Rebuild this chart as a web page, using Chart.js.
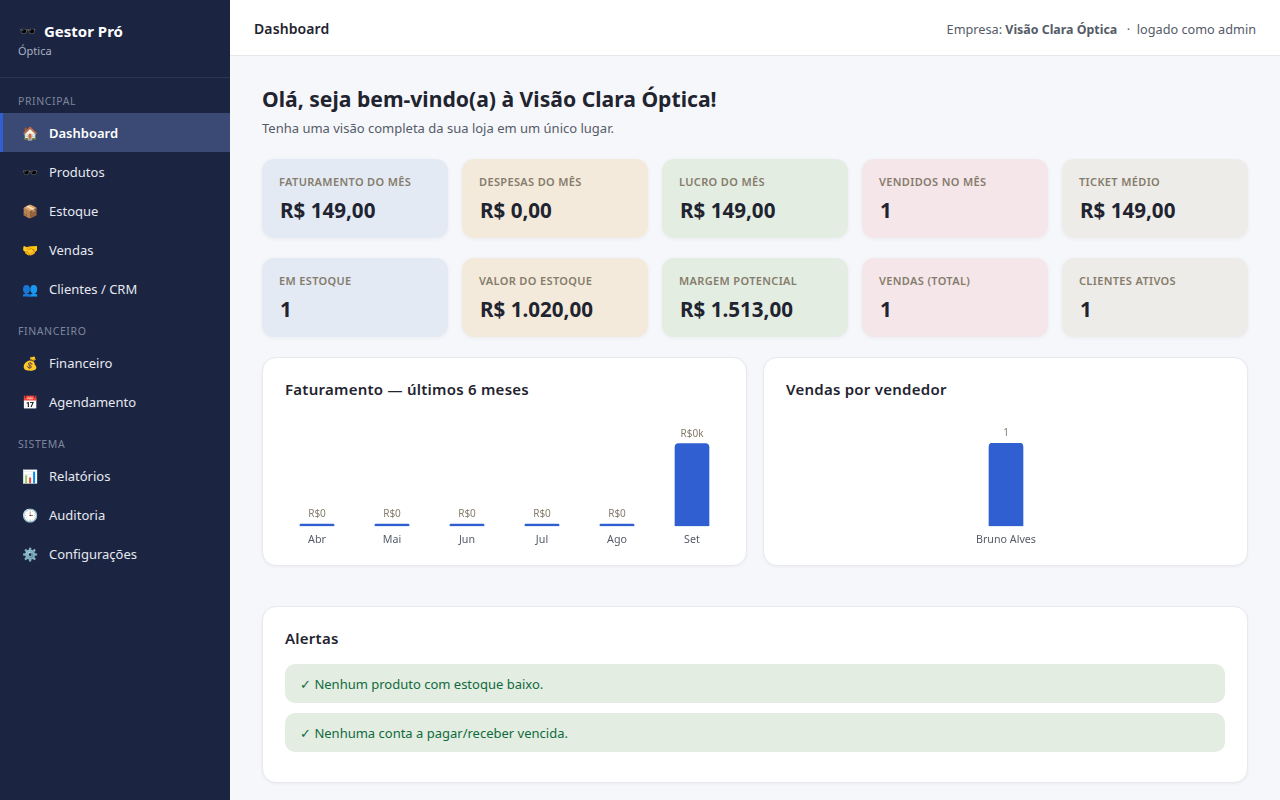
<!DOCTYPE html>
<html lang="pt-BR">
<head>
<meta charset="utf-8">
<title>Dashboard</title>
<script src="https://cdn.jsdelivr.net/npm/chart.js@4/dist/chart.umd.min.js"></script>
<style>
* { box-sizing: border-box; }
html, body { margin: 0; height: 800px; overflow: hidden; }
body { font-family: "Noto Sans", sans-serif; background: #f6f7fa; color: #1f2430; }
.side { position: absolute; left: 0; top: 0; width: 230px; height: 800px; background: #1b2440; color: #e8ebf3; }
.brand { position: absolute; left: 44px; top: 21px; font-size: 15px; font-weight: 700; color: #fff; white-space: nowrap; }
.brand i { position: absolute; left: -25px; top: 0; font-style: normal; font-size: 14px; }
.sub { position: absolute; left: 18px; top: 43px; font-size: 11px; color: #aab2c5; }
.rule { position: absolute; left: 0; top: 77px; width: 230px; height: 1px; background: #2a3553; }
.sec { position: absolute; left: 18px; font-size: 10.5px; letter-spacing: .6px; color: #7d869e; line-height: 14px; }
.item { position: absolute; left: 0; width: 230px; height: 39px; line-height: 41px; font-size: 13px; color: #e6e9f1; white-space: nowrap; }
.item i { position: absolute; left: 22px; top: 0; font-style: normal; font-size: 13px; width: 16px; text-align: center; }
.item span { position: absolute; left: 49px; }
.item.on { background: #3a4a75; border-left: 3px solid #2f5fd0; color: #fff; font-weight: 600; }
.item.on i { left: 19px; }
.item.on span { left: 46px; }
.top { position: absolute; left: 230px; top: 0; width: 1050px; height: 56px; background: #fff; border-bottom: 1px solid #e6e8ee; }
.top b.t { position: absolute; left: 24px; top: 19px; font-size: 14px; font-weight: 600; line-height: 20px; letter-spacing: .1px; }
.top .r { position: absolute; right: 24px; top: 19px; font-size: 12.7px; line-height: 20px; color: #555b68; white-space: nowrap; }
.top .r b { font-size: 12.4px; margin-right: 3px; }
h1 { position: absolute; left: 262px; top: 84px; margin: 0; font-size: 21.15px; line-height: 30px; font-weight: 700; white-space: nowrap; }
.lead { position: absolute; left: 262px; top: 119px; font-size: 13px; line-height: 18px; color: #555b68; }
.kpi { position: absolute; width: 186px; height: 79px; border-radius: 12px; box-shadow: 0 1px 4px rgba(30,40,70,.05); }
.kpi .l { position: absolute; left: 17px; top: 15px; font-size: 11px; line-height: 16px; font-weight: 600; letter-spacing: .35px; color: #857c6c; white-space: nowrap; }
.kpi .v { position: absolute; left: 18px; top: 37px; font-size: 20.6px; line-height: 28px; font-weight: 700; white-space: nowrap; }
.card { position: absolute; background: #fff; border: 1px solid #e7e9ef; border-radius: 14px; box-shadow: 0 1px 3px rgba(30,40,70,.05); }
.card h2 { position: absolute; left: 22px; margin: 0; font-size: 15px; line-height: 20px; font-weight: 600; letter-spacing: .25px; white-space: nowrap; }
.chartbox { position: absolute; }
.alert { position: absolute; left: 22px; width: 940px; height: 39px; line-height: 40px; padding-left: 15px; background: #e4ede2; color: #0f6b3d; border-radius: 10px; font-size: 13px; }
</style>
</head>
<body>
<div class="side" id="side">
  <div class="brand"><i>🕶️</i>Gestor Pró</div>
  <div class="sub">Óptica</div>
  <div class="rule"></div>
</div>
<div class="top">
  <b class="t">Dashboard</b>
  <div class="r">Empresa: <b>Visão Clara Óptica</b> &nbsp;·&nbsp; logado como admin</div>
</div>
<h1>Olá, seja bem-vindo(a) à Visão Clara Óptica!</h1>
<div class="lead">Tenha uma visão completa da sua loja em um único lugar.</div>
<div id="kpis"></div>
<div class="card" style="left:262px;top:357px;width:485px;height:209px">
  <h2 style="top:21px">Faturamento — últimos 6 meses</h2>
  <div class="chartbox" style="left:16px;top:61px;width:451px;height:134px"><canvas id="chartMonths"></canvas></div>
</div>
<div class="card" style="left:763px;top:357px;width:485px;height:209px">
  <h2 style="top:21px">Vendas por vendedor</h2>
  <div class="chartbox" style="left:22px;top:61px;width:440px;height:134px"><canvas id="chartSellers"></canvas></div>
</div>
<div class="card" style="left:262px;top:606px;width:986px;height:177px">
  <h2 style="top:21px">Alertas</h2>
  <div class="alert" style="top:57px">✓ Nenhum produto com estoque baixo.</div>
  <div class="alert" style="top:106px">✓ Nenhuma conta a pagar/receber vencida.</div>
</div>
<script>
var months = ['Abr', 'Mai', 'Jun', 'Jul', 'Ago', 'Set'];
var monthValues = [0, 0, 0, 0, 0, 149];
var monthLabels = ['R$0', 'R$0', 'R$0', 'R$0', 'R$0', 'R$0k'];

var sellers = ['Bruno Alves'];
var sellerValues = [1];
var sellerLabels = ['1'];

var kpiLabels = ['FATURAMENTO DO MÊS', 'DESPESAS DO MÊS', 'LUCRO DO MÊS', 'VENDIDOS NO MÊS', 'TICKET MÉDIO',
                 'EM ESTOQUE', 'VALOR DO ESTOQUE', 'MARGEM POTENCIAL', 'VENDAS (TOTAL)', 'CLIENTES ATIVOS'];
var kpiValues = ['R$ 149,00', 'R$ 0,00', 'R$ 149,00', '1', 'R$ 149,00',
                 '1', 'R$ 1.020,00', 'R$ 1.513,00', '1', '1'];
var kpiColors = ['#e3eaf4', '#f3eadb', '#e4ede2', '#f5e6e9', '#eeece8'];

var navSections = [['PRINCIPAL', 94], ['FINANCEIRO', 324], ['SISTEMA', 437]];
var navItems = [
    ['🏠', 'Dashboard', 113], ['🕶️', 'Produtos', 152], ['📦', 'Estoque', 191], ['🤝', 'Vendas', 230],
    ['👥', 'Clientes / CRM', 269], ['💰', 'Financeiro', 343], ['📅', 'Agendamento', 382],
    ['📊', 'Relatórios', 456], ['🕒', 'Auditoria', 495], ['⚙️', 'Configurações', 534]
];

var side = document.getElementById('side');
navSections.forEach(function (s) {
    var el = document.createElement('div');
    el.className = 'sec';
    el.style.top = s[1] + 'px';
    el.textContent = s[0];
    side.appendChild(el);
});
navItems.forEach(function (n, i) {
    var el = document.createElement('div');
    el.className = i === 0 ? 'item on' : 'item';
    el.style.top = n[2] + 'px';
    el.innerHTML = '<i>' + n[0] + '</i><span>' + n[1] + '</span>';
    side.appendChild(el);
});

var kpis = document.getElementById('kpis');
kpiLabels.forEach(function (label, i) {
    var el = document.createElement('div');
    el.className = 'kpi';
    el.style.left = (262 + (i % 5) * 200) + 'px';
    el.style.top = (i < 5 ? 159 : 258) + 'px';
    el.style.background = kpiColors[i % 5];
    el.innerHTML = '<div class="l">' + label + '</div><div class="v">' + kpiValues[i] + '</div>';
    kpis.appendChild(el);
});

// rotulo em cima de cada barra
var barLabels = {
    id: 'barLabels',
    afterDatasetsDraw: function (chart, args, opts) {
        var ctx = chart.ctx;
        ctx.save();
        ctx.font = '10px "Noto Sans"';
        ctx.fillStyle = '#857c6c';
        ctx.textAlign = 'center';
        ctx.textBaseline = 'alphabetic';
        chart.getDatasetMeta(0).data.forEach(function (bar, i) {
            ctx.fillText(opts.texts[i], bar.x, bar.y - 7);
        });
        ctx.restore();
    }
};

function barChart(id, labels, values, texts, sidePad) {
    return new Chart(document.getElementById(id), {
        type: 'bar',
        data: {
            labels: labels,
            datasets: [{
                data: values,
                backgroundColor: '#2f5fd0',
                barThickness: 34,
                minBarLength: 2,
                borderRadius: { topLeft: 4, topRight: 4 },
                borderSkipped: 'bottom'
            }]
        },
        plugins: [barLabels],
        options: {
            responsive: true,
            maintainAspectRatio: false,
            animation: false,
            layout: { padding: { top: 24, left: sidePad, right: sidePad, bottom: 0 } },
            plugins: {
                legend: { display: false },
                tooltip: { enabled: false },
                barLabels: { texts: texts }
            },
            scales: {
                x: {
                    grid: { display: false, drawTicks: false },
                    border: { display: false },
                    ticks: { color: '#555b68', font: { family: '"Noto Sans"', size: 10.7 }, padding: 7, maxRotation: 0 }
                },
                y: { display: false, beginAtZero: true }
            }
        }
    });
}

barChart('chartMonths', months, monthValues, monthLabels, 0.5);
barChart('chartSellers', sellers, sellerValues, sellerLabels, 0);
</script>
</body>
</html>
